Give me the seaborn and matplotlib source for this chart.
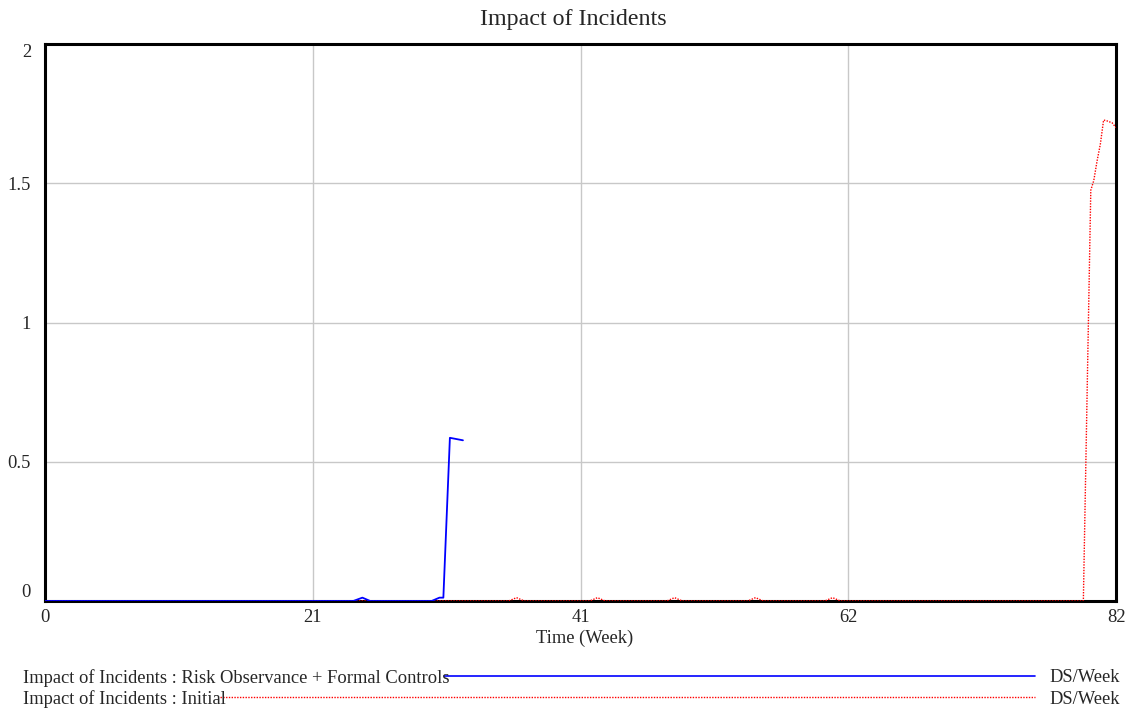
# Impact of Incidents - Vensim style time series
import numpy as np
import pandas as pd
import matplotlib
matplotlib.use("Agg")
import matplotlib.pyplot as plt
import seaborn as sns
from matplotlib.lines import Line2D

# --------------------------------------------
# Data
# --------------------------------------------
blue_weeks = [0, 23.6, 24.3, 24.9, 29.6, 30.2, 30.5, 31.0, 32.0]
blue_values = [0, 0, 0.012, 0, 0, 0.012, 0.012, 0.586, 0.577]

red_weeks = [0, 35.5, 36.1, 36.7, 41.7, 42.3, 42.9, 47.6, 48.2, 48.8,
             53.8, 54.4, 55.0, 59.7, 60.3, 60.9, 79.5, 80.07, 80.3,
             80.55, 80.8, 81.05, 81.3, 81.7, 82.0]
red_values = [0, 0, 0.012, 0, 0, 0.012, 0, 0, 0.012, 0,
              0, 0.012, 0, 0, 0.012, 0, 0, 1.475, 1.51,
              1.58, 1.64, 1.727, 1.724, 1.717, 1.70]

series_names = ["Impact of Incidents : Risk Observance + Formal Controls",
                "Impact of Incidents : Initial"]
units = "DS/Week"
x_ticks = [0, 20.5, 41, 61.5, 82]
x_tick_labels = ["0", "21", "41", "62", "82"]
y_ticks = [0, 0.5, 1, 1.5, 2]
y_tick_labels = ["0", "0.5", "1", "1.5", "2"]

# --------------------------------------------
# Style
# --------------------------------------------
sns.set_style("white")
plt.rcParams["font.family"] = ["Liberation Serif", "DejaVu Serif"]
plt.rcParams["font.size"] = 13.3

W, H = 1131, 709
fig = plt.figure(figsize=(W / 100, H / 100), dpi=100)
ax = fig.add_axes([45 / W, 1 - 601 / H, (1116 - 45) / W, (601 - 44) / H])

df_blue = pd.DataFrame({"week": blue_weeks, "value": blue_values})
df_red = pd.DataFrame({"week": red_weeks, "value": red_values})

sns.lineplot(data=df_red, x="week", y="value", ax=ax, color="#ff0000",
             linewidth=1.0, linestyle=(0, (1, 1)), zorder=3)
sns.lineplot(data=df_blue, x="week", y="value", ax=ax, color="#0000ff",
             linewidth=1.3, zorder=4)

ax.set_xlim(0, 82)
ax.set_ylim(0, 2)
ax.set_xticks(x_ticks)
ax.set_xticklabels(x_tick_labels)
ax.set_yticks(y_ticks)
ax.set_yticklabels(y_tick_labels)
ax.tick_params(axis="both", length=0, labelsize=13.3)
ax.tick_params(axis="x", pad=6)
ax.tick_params(axis="y", pad=10)
ylabels = ax.get_yticklabels()
ylabels[0].set_va("bottom")
ylabels[-1].set_va("top")

ax.grid(True, color="#c8c8c8", linewidth=1.0)
ax.set_axisbelow(True)
for sp in ax.spines.values():
    sp.set_visible(True)
    sp.set_color("black")
    sp.set_linewidth(2.2)

ax.set_xlabel("Time (Week)", fontsize=13.3, labelpad=3)
ax.xaxis.set_label_coords((584.5 - 45) / 1071, -0.052)
ax.set_ylabel("")

fig.text(573.5 / W, 1 - 20 / H, "Impact of Incidents", ha="center",
         va="center", fontsize=17.3)

# --------------------------------------------
# Legend rows below the plot
# --------------------------------------------
fig.canvas.draw()
renderer = fig.canvas.get_renderer()
rows = [(678, "#0000ff", "-", 1.2), (699, "#ff0000", (0, (1, 1)), 1.0)]
for name, (ypix, col, ls, lw) in zip(series_names, rows):
    yf = 1 - ypix / H
    t = fig.text(23 / W, yf, name, ha="left", va="center", fontsize=13.3)
    bb = t.get_window_extent(renderer)
    x0 = (bb.x1 - 6) / W
    fig.add_artist(Line2D([x0, 1035 / W], [yf + 2 / H, yf + 2 / H],
                          transform=fig.transFigure, color=col,
                          linestyle=ls, linewidth=lw))
    fig.text(1049 / W, yf, units, ha="left", va="center", fontsize=13.3)

fig.savefig("out.png", dpi=100)
